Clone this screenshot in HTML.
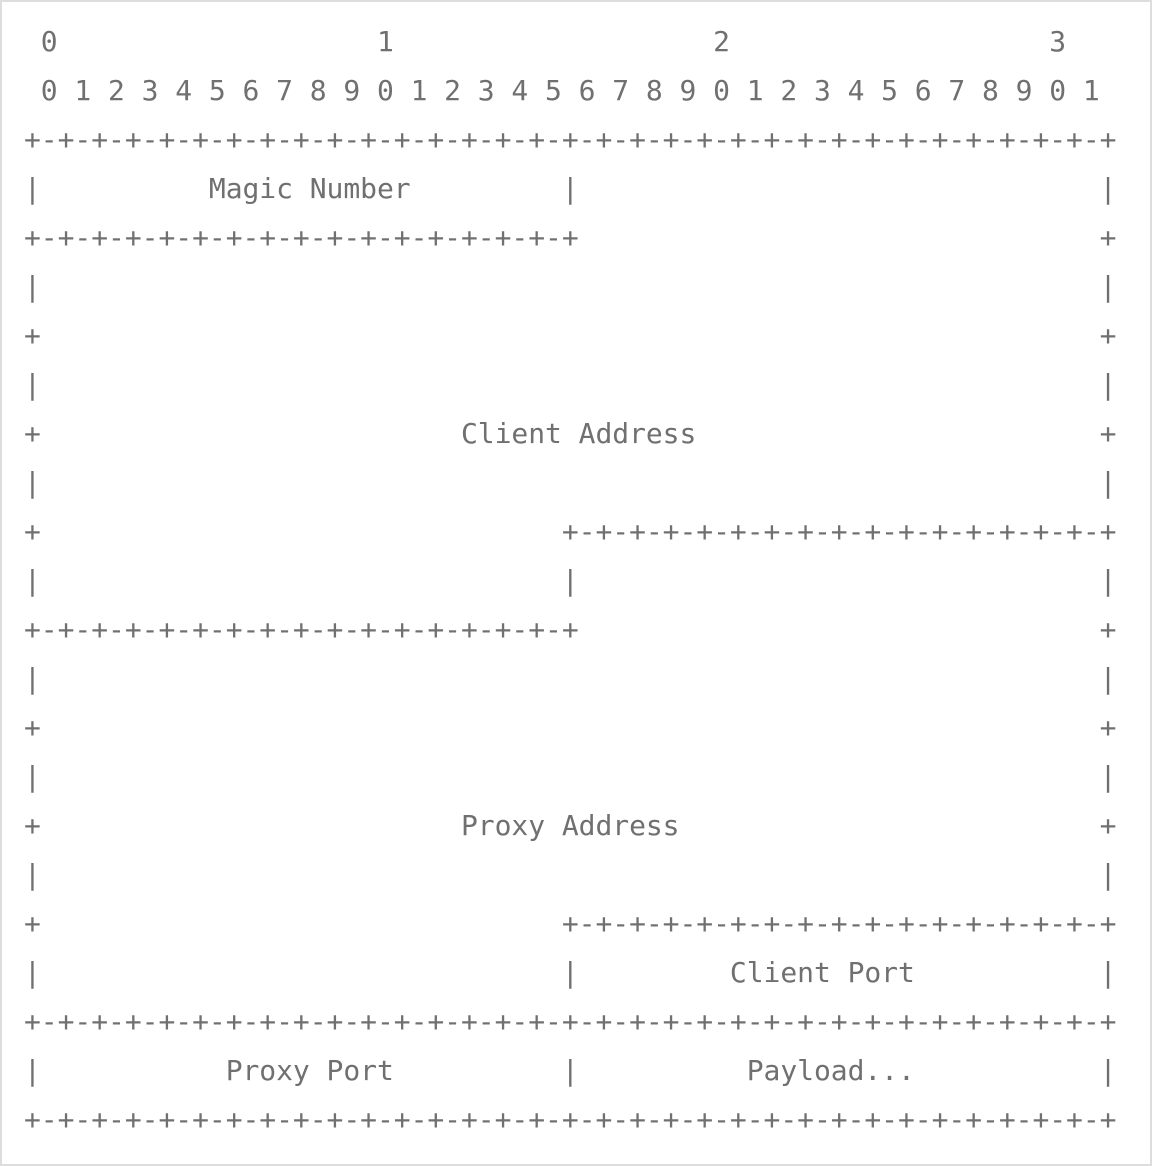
<!DOCTYPE html>
<html><head><meta charset="utf-8"><style>
html,body{margin:0;padding:0;background:#fff;}
body{width:1152px;height:1166px;position:relative;overflow:hidden;}
.frame{position:absolute;left:0;top:0;width:1148px;height:1162px;border:2px solid #ddd;}
pre{position:absolute;left:24px;top:17px;margin:0;font-family:"DejaVu Sans Mono","Liberation Mono",monospace;font-size:28px;line-height:49px;letter-spacing:-0.05px;color:#707070;white-space:pre;}
</style></head><body>
<div class="frame"></div>
<pre> 0                   1                   2                   3
 0 1 2 3 4 5 6 7 8 9 0 1 2 3 4 5 6 7 8 9 0 1 2 3 4 5 6 7 8 9 0 1
+-+-+-+-+-+-+-+-+-+-+-+-+-+-+-+-+-+-+-+-+-+-+-+-+-+-+-+-+-+-+-+-+
|          Magic Number         |                               |
+-+-+-+-+-+-+-+-+-+-+-+-+-+-+-+-+                               +
|                                                               |
+                                                               +
|                                                               |
+                         Client Address                        +
|                                                               |
+                               +-+-+-+-+-+-+-+-+-+-+-+-+-+-+-+-+
|                               |                               |
+-+-+-+-+-+-+-+-+-+-+-+-+-+-+-+-+                               +
|                                                               |
+                                                               +
|                                                               |
+                         Proxy Address                         +
|                                                               |
+                               +-+-+-+-+-+-+-+-+-+-+-+-+-+-+-+-+
|                               |         Client Port           |
+-+-+-+-+-+-+-+-+-+-+-+-+-+-+-+-+-+-+-+-+-+-+-+-+-+-+-+-+-+-+-+-+
|           Proxy Port          |          Payload...           |
+-+-+-+-+-+-+-+-+-+-+-+-+-+-+-+-+-+-+-+-+-+-+-+-+-+-+-+-+-+-+-+-+</pre>
</body></html>
